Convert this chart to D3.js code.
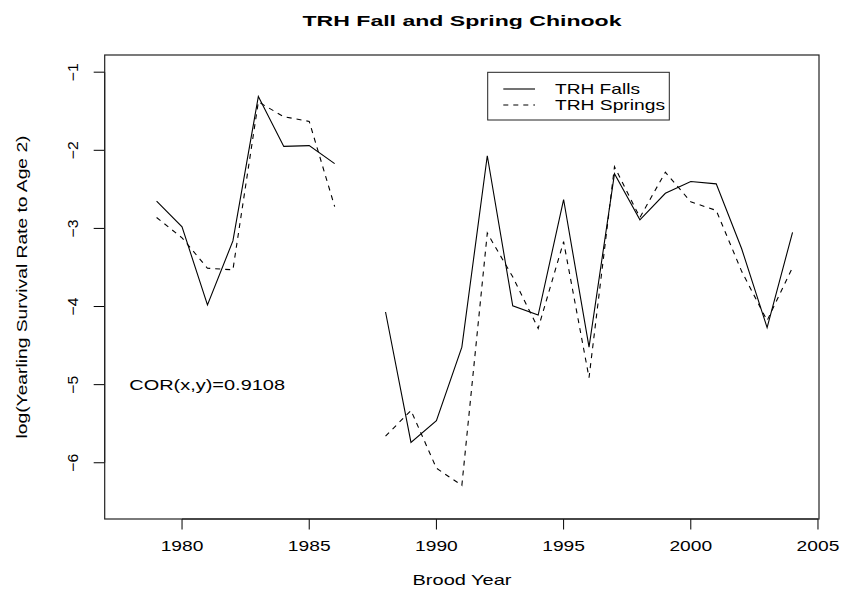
<!DOCTYPE html>
<html>
<head>
<meta charset="utf-8">
<script src="https://cdn.jsdelivr.net/npm/d3@7"></script>
<style>
  html, body { margin: 0; padding: 0; background: #fff; }
  svg text { font-family: "Liberation Sans", Arial, Helvetica, sans-serif; fill: #000; }
</style>
</head>
<body>
<svg id="chart" width="841" height="590"></svg>
<script>
// brood years, 1987 has no value
const years = d3.range(1979, 2005);
const falls = [-2.65, -2.98, -3.98, -3.16, -1.31, -1.95, -1.94, -2.17, null,
  -4.07, -5.74, -5.46, -4.52, -2.07, -3.99, -4.11, -2.63, -4.52, -2.30,
  -2.89, -2.55, -2.40, -2.43, -3.26, -4.27, -3.05];
const springs = [-2.86, -3.12, -3.51, -3.53, -1.38, -1.57, -1.63, -2.72, null,
  -5.66, -5.33, -6.07, -6.29, -3.06, -3.62, -4.28, -3.17, -4.91, -2.21,
  -2.86, -2.28, -2.66, -2.77, -3.55, -4.18, -3.50];
const xTicks = [1980, 1985, 1990, 1995, 2000, 2005];
const yTicks = [-1, -2, -3, -4, -5, -6];
const seriesNames = ["TRH Falls", "TRH Springs"];

(function () {
  const svg = d3.select("#chart");
  const pl = 104.7, pr = 819, pt = 55, pb = 519;

  // R style: xlim c(1978,2004), ylim c(-6.5,-1), each widened by 4%
  const x = d3.scaleLinear().domain([1976.96, 2005.04]).range([pl, pr]);
  const y = d3.scaleLinear().domain([-6.72, -0.78]).range([pb, pt]);

  // title
  svg.append("text")
    .attr("x", 462).attr("y", 25.7)
    .attr("text-anchor", "middle")
    .attr("font-size", 15).attr("font-weight", "bold")
    .attr("textLength", 319).attr("lengthAdjust", "spacingAndGlyphs")
    .text("TRH Fall and Spring Chinook");

  // x axis
  const xAxis = svg.append("g").attr("transform", `translate(0,${pb})`);
  xAxis.append("line")
    .attr("x1", x(xTicks[0])).attr("x2", x(xTicks[xTicks.length - 1]))
    .attr("stroke", "#000").attr("stroke-width", 1);
  xAxis.selectAll("line.tick").data(xTicks).join("line")
    .attr("class", "tick")
    .attr("x1", d => x(d)).attr("x2", d => x(d))
    .attr("y1", 0).attr("y2", 10.5)
    .attr("stroke", "#000").attr("stroke-width", 1);
  xAxis.selectAll("text").data(xTicks).join("text")
    .attr("x", d => x(d)).attr("y", 31.7)
    .attr("text-anchor", "middle").attr("font-size", 15)
    .attr("textLength", 42.7).attr("lengthAdjust", "spacingAndGlyphs")
    .text(d => d);

  // y axis
  const yAxis = svg.append("g").attr("transform", `translate(${pl},0)`);
  yAxis.append("line")
    .attr("y1", y(yTicks[0])).attr("y2", y(yTicks[yTicks.length - 1]))
    .attr("stroke", "#000").attr("stroke-width", 1);
  yAxis.selectAll("line.tick").data(yTicks).join("line")
    .attr("class", "tick")
    .attr("y1", d => y(d)).attr("y2", d => y(d))
    .attr("x1", 0).attr("x2", -11)
    .attr("stroke", "#000").attr("stroke-width", 1);
  yAxis.selectAll("text").data(yTicks).join("text")
    .attr("transform", d => `translate(${78.3 - pl},${y(d)}) rotate(-90)`)
    .attr("text-anchor", "middle").attr("font-size", 15)
    .attr("textLength", 18).attr("lengthAdjust", "spacingAndGlyphs")
    .text(d => "\u2212" + Math.abs(d));

  // axis titles
  svg.append("text")
    .attr("x", 462).attr("y", 585)
    .attr("text-anchor", "middle").attr("font-size", 15)
    .attr("textLength", 99).attr("lengthAdjust", "spacingAndGlyphs")
    .text("Brood Year");
  svg.append("text")
    .attr("transform", `translate(27,${(pt + pb) / 2}) rotate(-90)`)
    .attr("text-anchor", "middle").attr("font-size", 14)
    .attr("textLength", 303).attr("lengthAdjust", "spacingAndGlyphs")
    .text("log(Yearling Survival Rate to Age 2)");

  // series
  const line = d3.line()
    .defined(d => d[1] != null)
    .x(d => x(d[0])).y(d => y(d[1]));

  svg.append("path")
    .datum(years.map((yr, i) => [yr, springs[i]]))
    .attr("d", line)
    .attr("fill", "none").attr("stroke", "#000").attr("stroke-width", 1.1)
    .attr("stroke-dasharray", "5,5");
  svg.append("path")
    .datum(years.map((yr, i) => [yr, falls[i]]))
    .attr("d", line)
    .attr("fill", "none").attr("stroke", "#000").attr("stroke-width", 1.1);

  // plot box
  svg.append("rect")
    .attr("x", pl).attr("y", pt)
    .attr("width", pr - pl).attr("height", pb - pt)
    .attr("fill", "none").attr("stroke", "#222").attr("stroke-width", 1.2);

  // correlation note
  svg.append("text")
    .attr("x", 129.3).attr("y", 390)
    .attr("font-size", 15)
    .attr("textLength", 155.7).attr("lengthAdjust", "spacingAndGlyphs")
    .text("COR(x,y)=0.9108");

  // legend
  const legend = svg.append("g");
  legend.append("rect")
    .attr("x", 487.7).attr("y", 72.3)
    .attr("width", 181.6).attr("height", 47.7)
    .attr("fill", "#fff").attr("stroke", "#222").attr("stroke-width", 1);
  const legendRows = legend.selectAll("g.row").data(seriesNames).join("g")
    .attr("class", "row")
    .attr("transform", (d, i) => `translate(0,${89 + i * 16})`);
  legendRows.append("line")
    .attr("x1", 503.3).attr("x2", 535)
    .attr("stroke", "#000").attr("stroke-width", 1.1)
    .attr("stroke-dasharray", (d, i) => i ? "5,5" : null);
  legendRows.append("text")
    .attr("x", 555).attr("y", 5)
    .attr("font-size", 15)
    .attr("textLength", (d, i) => i ? 110 : 85).attr("lengthAdjust", "spacingAndGlyphs")
    .text(d => d);
})();
</script>
</body>
</html>
